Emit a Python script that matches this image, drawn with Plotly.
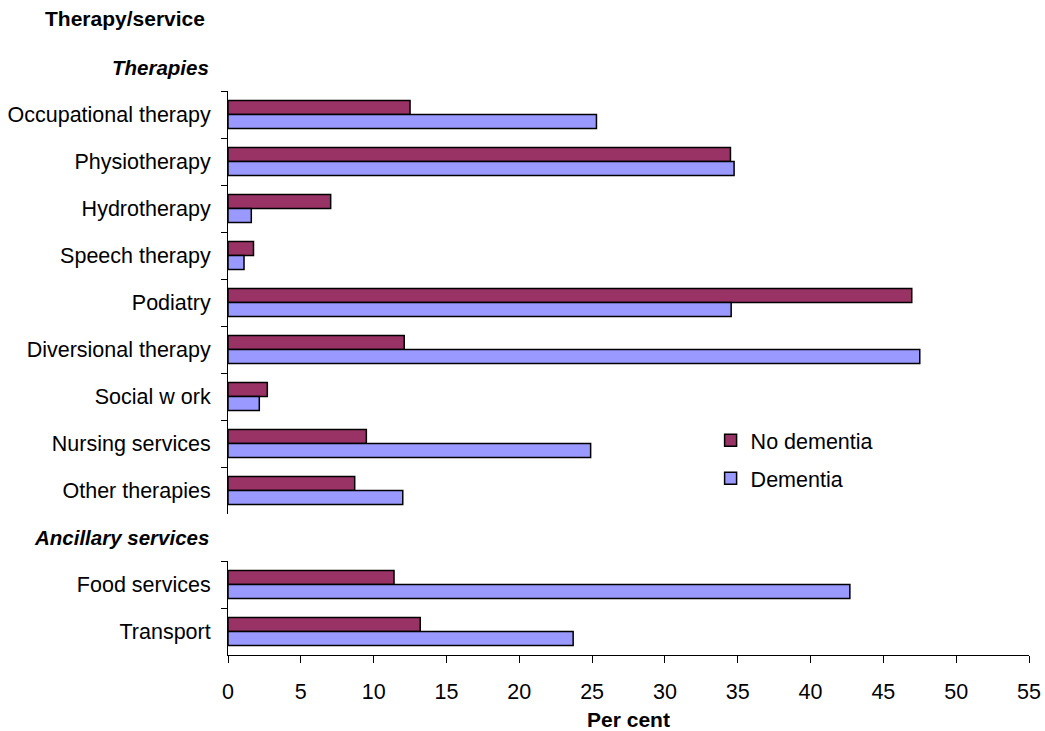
import plotly.graph_objects as go

therapies = ["Occupational therapy", "Physiotherapy", "Hydrotherapy", "Speech therapy",
             "Podiatry", "Diversional therapy", "Social w ork", "Nursing services", "Other therapies"]
ther_no_dementia = [12.5, 34.5, 7.05, 1.75, 46.95, 12.1, 2.7, 9.5, 8.7]
ther_dementia = [25.3, 34.75, 1.6, 1.1, 34.55, 47.5, 2.15, 24.9, 12.0]

ancillary = ["Food services", "Transport"]
anc_no_dementia = [11.4, 13.2]
anc_dementia = [42.7, 23.7]

group_headers = ["Therapies", "Ancillary services"]
series_names = ["No dementia", "Dementia"]
series_colors = ["#993366", "#9999FF"]
x_ticks = list(range(0, 56, 5))

font_family = "Liberation Sans, Arial, sans-serif"
top_domain = [0.25, 1.0]
band = (top_domain[1] - top_domain[0]) / len(therapies)
bottom_domain = [0.0, top_domain[0] - band]

fig = go.Figure()
for name, color, vals in zip(series_names, series_colors, [ther_no_dementia, ther_dementia]):
    fig.add_trace(go.Bar(y=therapies, x=vals, orientation="h", name=name, legendgroup=name,
                         xaxis="x", yaxis="y",
                         marker=dict(color=color, line=dict(color="black", width=1.5))))
for name, color, vals in zip(series_names, series_colors, [anc_no_dementia, anc_dementia]):
    fig.add_trace(go.Bar(y=ancillary, x=vals, orientation="h", name=name, legendgroup=name,
                         showlegend=False, xaxis="x", yaxis="y2",
                         marker=dict(color=color, line=dict(color="black", width=1.5))))

yaxis_common = dict(showgrid=False, showline=True, linecolor="black", linewidth=1,
                    ticks="outside", ticklen=6, tickcolor="black", tickson="boundaries",
                    autorange="reversed", ticklabelstandoff=12, zeroline=False,
                    automargin=False, tickfont=dict(size=21.5))

fig.update_layout(
    width=1045, height=731,
    margin=dict(l=228, r=16, t=91, b=76),
    paper_bgcolor="white", plot_bgcolor="white",
    barmode="group", bargap=0.4, bargroupgap=0,
    font=dict(family=font_family, size=21, color="black"),
    showlegend=True,
    legend=dict(x=0.6025, y=0.417, xanchor="left", yanchor="top", bgcolor="rgba(0,0,0,0)",
                font=dict(size=21.5), traceorder="grouped", tracegroupgap=7),
    xaxis=dict(range=[0, 55], tickvals=x_ticks, showgrid=False, showline=True, linecolor="black",
               linewidth=1, ticks="outside", ticklen=7, tickcolor="black", zeroline=False,
               anchor="y2", ticklabelstandoff=10, tickfont=dict(size=21.5), automargin=False,
               title=dict(text="<b>Per cent</b>", font=dict(size=21), standoff=10)),
    yaxis=dict(domain=top_domain, anchor="x", categoryorder="array", categoryarray=therapies,
               **yaxis_common),
    yaxis2=dict(domain=bottom_domain, anchor="x", categoryorder="array", categoryarray=ancillary,
                **yaxis_common),
)

header_y = [top_domain[1] + band / 2, top_domain[0] - band / 2]
for text, yv in zip(group_headers, header_y):
    fig.add_annotation(text=f"<b><i>{text}</i></b>", xref="paper", yref="paper", x=0, y=yv,
                       xanchor="right", yanchor="middle", xshift=-17, showarrow=False,
                       font=dict(size=20.5))
fig.add_annotation(text="<b>Therapy/service</b>", xref="paper", yref="paper", x=0, y=1.129,
                   xanchor="right", yanchor="middle", xshift=-21, showarrow=False,
                   font=dict(size=21))
fig.write_html("out.html", config={"displayModeBar": False},
               post_script="document.body.style.margin='0';")
